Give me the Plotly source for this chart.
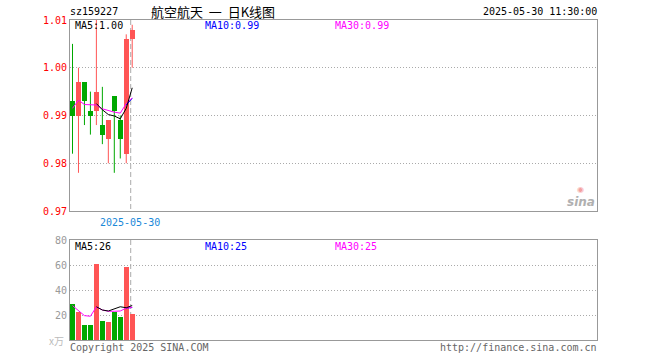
import plotly.graph_objects as go

# ---------------- data ----------------
idx = list(range(11))
opens  = [0.993, 0.990, 0.997, 0.991, 0.991, 0.988, 0.985, 0.994, 0.989, 0.982, 1.006]
closes = [0.990, 0.997, 0.993, 0.990, 0.995, 0.986, 0.989, 0.991, 0.985, 1.006, 1.008]
highs  = [1.005, 1.000, 0.997, 0.995, 1.010, 0.996, 0.989, 0.994, 0.990, 1.007, 1.009]
lows   = [0.982, 0.978, 0.988, 0.986, 0.988, 0.984, 0.980, 0.978, 0.981, 0.980, 1.000]
volumes = [29.0, 22.4, 12.0, 12.0, 61.0, 15.2, 14.4, 22.7, 18.4, 58.4, 21.0]

ma5_price_x = [4, 5, 6, 7, 8, 9, 10]
ma5_price = [0.9925, 0.9912, 0.9902, 0.9899, 0.9893, 0.9915, 0.9958]
ma10_price_x = [9, 10]
ma10_price = [0.9922, 0.9936]
ma30_price = [0.9915, 0.9932, 0.9923, 0.9922, 0.9922, 0.9914, 0.9910, 0.9907, 0.9905, 0.9925, 0.9937]

ma5_vol_x = [4, 5, 6, 7, 8, 9, 10]
ma5_vol = [26.6, 24.0, 23.2, 25.0, 26.6, 25.8, 27.6]
ma10_vol_x = [9, 10]
ma10_vol = [25.6, 26.0]
ma30_vol = [27.5, 23.5, 19.5, 19.0, 26.5, 24.0, 23.0, 23.0, 23.2, 25.5, 26.2]

price_ticks = [0.97, 0.98, 0.99, 1.00, 1.01]
price_tick_text = ["0.97", "0.98", "0.99", "1.00", "1.01"]
vol_ticks = [20, 40, 60, 80]
vol_tick_text = ["20", "40", "60", "80"]
day_split = 9.75

code = "sz159227"
title = "航空航天 一 日K线图"
stamp = "2025-05-30 11:30:00"
date_label = "2025-05-30"
ma_price_labels = ["MA5:1.00", "MA10:0.99", "MA30:0.99"]
ma_vol_labels = ["MA5:26", "MA10:25", "MA30:25"]

# ---------------- style ----------------
RED = "#ff5555"
GREEN = "#00a800"
MONO = "DejaVu Sans Mono"
CJK = "Noto Sans CJK SC"
W, H = 660, 360
L, R = 70, 597
PT, PB = 20, 211
VT, VB = 240, 340

def px(x):
    return x / W

def py(y):
    return 1 - y / H

up = [c >= o for o, c in zip(opens, closes)]
colors = [RED if u else GREEN for u in up]

fig = go.Figure()

# wicks
for col, flag in ((RED, True), (GREEN, False)):
    wx, wy = [], []
    for i, u in zip(idx, up):
        if u == flag:
            wx += [i, i, None]
            wy += [lows[i], highs[i], None]
    fig.add_trace(go.Scatter(x=wx, y=wy, mode="lines", line=dict(color=col, width=1),
                             hoverinfo="skip", showlegend=False, xaxis="x", yaxis="y"))

# bodies
fig.add_trace(go.Bar(x=idx, base=[min(o, c) for o, c in zip(opens, closes)],
                     y=[max(abs(c - o), 0.0002) for o, c in zip(opens, closes)],
                     width=0.83, marker=dict(color=colors, line=dict(width=0)),
                     showlegend=False, xaxis="x", yaxis="y"))

# price MA lines
fig.add_trace(go.Scatter(x=ma10_price_x, y=ma10_price, mode="lines", line=dict(color="#0000ff", width=1),
                         showlegend=False, xaxis="x", yaxis="y"))
fig.add_trace(go.Scatter(x=idx, y=ma30_price, mode="lines", line=dict(color="#ff00ff", width=1),
                         showlegend=False, xaxis="x", yaxis="y"))
fig.add_trace(go.Scatter(x=ma5_price_x, y=ma5_price, mode="lines", line=dict(color="#000000", width=1),
                         showlegend=False, xaxis="x", yaxis="y"))

# volume bars
fig.add_trace(go.Bar(x=idx, y=volumes, width=0.83, marker=dict(color=colors, line=dict(width=0)),
                     showlegend=False, xaxis="x2", yaxis="y2"))
fig.add_trace(go.Scatter(x=ma10_vol_x, y=ma10_vol, mode="lines", line=dict(color="#0000ff", width=1),
                         showlegend=False, xaxis="x2", yaxis="y2"))
fig.add_trace(go.Scatter(x=idx, y=ma30_vol, mode="lines", line=dict(color="#ff00ff", width=1),
                         showlegend=False, xaxis="x2", yaxis="y2"))
fig.add_trace(go.Scatter(x=ma5_vol_x, y=ma5_vol, mode="lines", line=dict(color="#000000", width=1),
                         showlegend=False, xaxis="x2", yaxis="y2"))

xr = [-0.42, -0.42 + (R - L) / 5.97]
axis_common = dict(showline=True, mirror=True, linecolor="#999999", linewidth=1,
                   zeroline=False, ticks="", fixedrange=True, automargin=False)
grid_common = dict(showgrid=True, gridcolor="#aaaaaa", griddash="1px,2px", gridwidth=1)

fig.update_layout(
    width=W, height=H, margin=dict(l=0, r=0, t=0, b=0, pad=0),
    paper_bgcolor="white", plot_bgcolor="white", bargap=0, showlegend=False,
    hovermode=False,
    xaxis=dict(domain=[px(L), px(R)], range=xr, showticklabels=False, showgrid=False,
               anchor="y", **axis_common),
    yaxis=dict(domain=[py(PB), py(PT)], range=[0.97, 1.01], tickvals=price_ticks,
               ticktext=price_tick_text, tickfont=dict(family=MONO, size=10, color="#ff0000"),
               anchor="x", **grid_common, **axis_common),
    xaxis2=dict(domain=[px(L), px(R)], range=xr, showticklabels=False, showgrid=False,
                anchor="y2", **axis_common),
    yaxis2=dict(domain=[py(VB), py(VT)], range=[0, 80], tickvals=vol_ticks,
                ticktext=vol_tick_text, tickfont=dict(family=MONO, size=10, color="#999999"),
                anchor="x2", **grid_common, **axis_common),
)

# day split dashed line
for y0, y1 in ((PT, PB), (VT, VB)):
    fig.add_shape(type="line", xref="x", yref="paper", x0=day_split, x1=day_split,
                  y0=py(y0), y1=py(y1), line=dict(color="#aaaaaa", width=1, dash="5px,3px"),
                  layer="below")

def ann(text, x, y, color="#000000", size=10, family=MONO, xanchor="left"):
    fig.add_annotation(text=text, x=px(x), y=py(y), xref="paper", yref="paper",
                       xanchor=xanchor, yanchor="middle", showarrow=False,
                       borderpad=0, font=dict(family=family, size=size, color=color))

ann(code, 69, 12)
ann(title.replace(" ", "\u00a0\u00a0"), 213, 12, size=13, family=CJK, xanchor="center")
ann(stamp, 598, 12, xanchor="right")

ma_colors = ["#000000", "#0000ff", "#ff00ff"]
for t, xx, c in zip(ma_price_labels, (74, 204, 334), ma_colors):
    ann(t, xx, 26, color=c)
for t, xx, c in zip(ma_vol_labels, (74, 204, 334), ma_colors):
    ann(t, xx, 246, color=c)

ann(date_label, 130, 222, color="#1a88d8", xanchor="center")
ann("x万", 56, 340, color="#bbbbbb", family=CJK, xanchor="center")
ann("Copyright 2025 SINA.COM", 69, 347, color="#666666")
ann("http://finance.sina.com.cn", 598, 347, color="#666666", xanchor="right")

# sina watermark
ann("<b><i>sina</i></b>", 596, 202, color="#b0b0b0", size=12, family="DejaVu Sans", xanchor="right")
ann("◉", 580, 189, color="#f4a0a0", size=8, family="DejaVu Sans", xanchor="center")

fig.write_html("out.html",
               config={"displayModeBar": False, "staticPlot": True},
               post_script="document.body.style.margin='0';document.body.style.overflow='hidden';")
